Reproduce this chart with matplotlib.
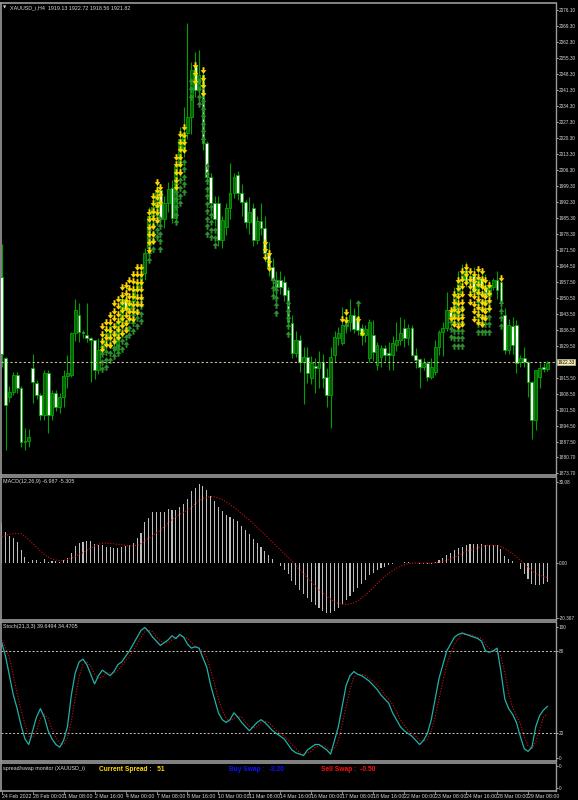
import matplotlib
matplotlib.use('Agg')
import matplotlib.pyplot as plt
from matplotlib.path import Path
from matplotlib.transforms import blended_transform_factory
import numpy as np

# ---------------- data (XAUUSD_i H4, 24 Feb 16:00 -> 30 Mar) ----------------
opens = [1959.4, 1924.0, 1906.9, 1909.1, 1916.6, 1910.9, 1887.2, 1888.0, 1919.6, 1913.1,
         1907.8, 1899.1, 1917.4, 1899.1, 1908.7, 1902.6, 1906.9, 1916.1, 1916.6, 1934.9,
         1942.8, 1935.4, 1934.0, 1932.7, 1931.8, 1918.7, 1927.5, 1932.0, 1935.0, 1929.0,
         1927.5, 1940.0, 1950.0, 1945.0, 1949.0, 1954.0, 1956.0, 1961.2, 1972.0, 1986.0,
         1990.0, 1997.5, 1985.0, 1992.0, 1998.4, 1985.2, 2008.0, 2015.0, 2022.4, 2029.4,
         2052.2, 2041.2, 2047.8, 2018.0, 2003.2, 1992.0, 1992.0, 1975.6, 1981.3, 1989.6,
         1996.2, 2004.0, 1996.2, 1992.2, 1983.5, 1989.6, 1975.6, 1984.0, 1981.0, 1970.0,
         1964.0, 1958.0, 1958.1, 1957.2, 1953.7, 1939.3, 1926.2, 1931.8, 1922.2, 1924.4,
         1915.2, 1920.5, 1919.6, 1922.2, 1915.7, 1907.8, 1925.3, 1932.7, 1930.5, 1938.4,
         1940.0, 1943.0, 1941.9, 1937.1, 1934.0, 1924.0, 1934.0, 1920.9, 1924.4, 1928.3,
         1926.2, 1925.3, 1929.6, 1931.8, 1937.1, 1932.7, 1937.1, 1925.3, 1923.5, 1920.0,
         1921.8, 1916.0, 1917.9, 1928.7, 1935.4, 1937.1, 1944.1, 1942.0, 1952.0, 1958.0,
         1962.5, 1957.2, 1960.0, 1953.0, 1959.0, 1955.0, 1951.0, 1955.0, 1958.0, 1957.2,
         1942.8, 1927.5, 1938.0, 1938.4, 1922.2, 1924.0, 1922.2, 1913.5, 1896.9, 1915.7,
         1920.0, 1919.13]
highs = [1974.0, 1924.5, 1912.0, 1918.0, 1918.0, 1912.0, 1893.4, 1893.0, 1926.0, 1914.4,
         1909.0, 1918.7, 1918.7, 1910.0, 1910.0, 1909.0, 1918.7, 1925.3, 1935.4, 1949.8,
         1948.0, 1936.5, 1948.0, 1933.2, 1931.8, 1933.0, 1935.0, 1938.0, 1941.0, 1936.0,
         1942.0, 1953.0, 1955.0, 1951.0, 1957.0, 1959.0, 1963.0, 1972.0, 1990.0, 1996.0,
         2001.0, 2000.0, 1995.0, 2001.0, 2002.0, 2010.0, 2025.0, 2034.0, 2070.5, 2053.5,
         2058.0, 2058.7, 2050.0, 2019.0, 2005.0, 1995.0, 1995.0, 1986.0, 1992.0, 2009.3,
         2004.9, 2006.0, 2000.0, 1993.0, 1994.4, 1992.0, 1986.0, 1992.0, 1986.0, 1975.0,
         1968.0, 1962.0, 1962.0, 1960.0, 1955.0, 1943.0, 1935.8, 1934.0, 1929.0, 1929.0,
         1925.0, 1924.0, 1927.0, 1926.0, 1919.6, 1928.7, 1935.8, 1937.5, 1946.3, 1945.0,
         1950.0, 1946.0, 1948.0, 1939.0, 1938.4, 1941.0, 1940.6, 1931.0, 1930.0, 1930.0,
         1931.0, 1933.6, 1939.8, 1942.0, 1941.0, 1939.0, 1938.4, 1928.3, 1924.0, 1924.0,
         1922.6, 1924.0, 1932.0, 1936.5, 1940.0, 1953.0, 1946.0, 1955.0, 1962.0, 1965.0,
         1966.0, 1963.0, 1964.0, 1962.0, 1963.0, 1961.0, 1958.0, 1959.0, 1962.0, 1960.0,
         1946.0, 1941.0, 1942.0, 1940.6, 1925.3, 1928.7, 1922.6, 1914.0, 1919.0, 1922.0,
         1922.0, 1922.72]
lows = [1920.0, 1883.7, 1905.0, 1908.0, 1909.0, 1885.0, 1884.0, 1885.0, 1904.3, 1906.0,
        1897.0, 1897.0, 1891.2, 1897.0, 1901.0, 1900.0, 1902.6, 1911.0, 1915.7, 1931.5,
        1931.0, 1933.0, 1931.0, 1913.5, 1915.0, 1917.0, 1925.0, 1928.0, 1931.0, 1925.0,
        1926.0, 1937.0, 1942.0, 1941.0, 1945.0, 1950.0, 1952.0, 1958.0, 1968.0, 1980.0,
        1985.0, 1982.0, 1981.0, 1988.0, 1983.0, 1984.0, 2005.0, 2012.0, 2020.0, 2022.0,
        2038.0, 2035.0, 2015.0, 2000.0, 1986.0, 1982.0, 1973.0, 1972.0, 1978.0, 1985.0,
        1994.0, 1993.0, 1986.0, 1981.0, 1978.5, 1973.0, 1974.0, 1978.0, 1966.0, 1960.0,
        1952.0, 1948.0, 1952.0, 1949.0, 1938.0, 1924.0, 1924.4, 1918.0, 1904.0, 1913.0,
        1912.6, 1909.0, 1911.0, 1911.0, 1902.6, 1893.4, 1922.2, 1930.0, 1929.6, 1935.0,
        1936.0, 1935.0, 1934.0, 1930.0, 1930.9, 1922.2, 1923.0, 1919.0, 1920.0, 1923.0,
        1918.7, 1918.7, 1927.0, 1929.6, 1929.0, 1930.0, 1925.0, 1919.6, 1910.9, 1919.0,
        1914.0, 1915.0, 1916.6, 1925.3, 1925.0, 1935.8, 1938.0, 1938.0, 1948.0, 1954.0,
        1955.0, 1952.0, 1950.0, 1950.0, 1952.0, 1948.0, 1946.0, 1953.7, 1950.0, 1945.0,
        1926.0, 1926.0, 1926.0, 1917.4, 1920.0, 1920.0, 1906.9, 1888.9, 1892.5, 1911.0,
        1918.0, 1918.56]
closes = [1926.0, 1903.4, 1909.1, 1916.6, 1910.9, 1887.2, 1888.0, 1889.4, 1913.5, 1907.8,
          1899.1, 1917.4, 1899.1, 1908.7, 1902.6, 1906.9, 1916.1, 1917.4, 1934.9, 1945.0,
          1935.4, 1934.9, 1932.7, 1931.8, 1918.7, 1927.5, 1932.0, 1935.0, 1938.0, 1927.5,
          1940.0, 1950.0, 1945.0, 1949.0, 1954.0, 1956.0, 1961.0, 1969.9, 1986.0, 1990.0,
          1997.5, 1985.2, 1992.0, 1998.0, 1985.2, 2008.0, 2020.0, 2022.4, 2029.4, 2050.0,
          2041.2, 2047.8, 2018.0, 2003.2, 1992.0, 1985.0, 1975.6, 1984.3, 1989.6, 1996.2,
          2003.2, 1996.2, 1992.2, 1983.5, 1988.0, 1975.6, 1984.0, 1981.0, 1970.0, 1964.0,
          1958.0, 1955.0, 1955.0, 1951.5, 1940.0, 1926.2, 1931.8, 1922.2, 1924.4, 1917.4,
          1921.8, 1919.6, 1922.2, 1915.2, 1907.8, 1924.4, 1933.2, 1934.9, 1938.4, 1940.0,
          1943.0, 1937.0, 1936.2, 1934.0, 1937.0, 1940.0, 1926.6, 1929.6, 1928.3, 1925.3,
          1925.3, 1930.5, 1931.8, 1934.9, 1932.7, 1937.1, 1925.3, 1923.1, 1920.0, 1921.8,
          1915.7, 1920.0, 1928.7, 1935.4, 1937.1, 1945.0, 1941.9, 1952.0, 1958.0, 1962.0,
          1957.2, 1960.0, 1953.0, 1959.0, 1955.0, 1951.0, 1956.0, 1958.1, 1954.0, 1948.0,
          1927.5, 1938.4, 1930.0, 1921.8, 1924.0, 1922.2, 1913.5, 1896.9, 1918.7, 1919.6,
          1919.1, 1921.82]

# signal arrows: bar index, price of first arrow, number of stacked arrows
yel_bar = [26, 27, 28, 29, 30, 31, 32, 33, 34, 35, 36, 38, 39, 40, 41, 45, 46, 47, 50, 52,
           68, 69, 88, 89, 92, 93, 116, 117, 118, 119, 120, 121, 122, 123, 124, 125, 126, 129]
yel_top = [1938, 1940, 1943, 1948, 1950, 1955, 1956, 1958, 1961, 1964, 1964, 1988, 1995, 2001,
           1999, 2012, 2022, 2025, 2052, 2050, 1975, 1970, 1941, 1944, 1941, 1935, 1945, 1952,
           1958, 1962, 1964, 1962, 1961, 1963, 1962, 1958, 1956, 1959]
yel_cnt = [4, 4, 5, 6, 6, 7, 7, 6, 7, 7, 6, 6, 7, 6, 3, 5, 6, 4, 3, 4,
           3, 3, 1, 2, 1, 1, 2, 5, 7, 8, 3, 5, 7, 8, 8, 6, 4, 1]
grn_bar = [26, 27, 28, 29, 30, 31, 32, 33, 34, 35, 36, 38, 39, 40, 41, 45, 46, 47, 49, 51,
           52, 53, 54, 55, 70, 71, 74, 89, 92, 116, 117, 118, 119, 123, 124, 125, 126, 129]
grn_top = [1929, 1930, 1933, 1935, 1936, 1938, 1940, 1944, 1946, 1948, 1950, 1980, 1985, 1990,
           1985, 2000, 2005, 2010, 2045, 2045, 2043, 2008, 1990, 1980, 1958, 1957, 1948, 1938,
           1948, 1940, 1946, 1946, 1946, 1952, 1952, 1952, 1952, 1948]
grn_cnt = [4, 4, 4, 4, 4, 4, 4, 4, 4, 4, 4, 5, 5, 5, 5, 6, 5, 5, 3, 4,
           8, 10, 5, 3, 3, 5, 5, 1, 1, 3, 6, 6, 6, 6, 6, 6, 6, 4]

macd_main = [14.8, 11.7, 10.1, 9.3, 7.9, 4.9, 2.5, 0.6, 1.2, 1.2,
             0.6, 1.6, 0.6, 0.7, 0.7, 0.5, 1.2, 2.1, 4.0, 6.4,
             7.5, 8.0, 8.4, 8.4, 7.2, 6.8, 6.8, 6.2, 6.0, 5.8,
             5.8, 6.2, 6.4, 6.9, 7.7, 9.3, 11.4, 15.2, 16.7, 18.9,
             18.9, 18.9, 19.1, 20.1, 19.8, 19.8, 20.7, 22.0, 23.8, 26.9,
             28.0, 29.5, 28.5, 27.0, 25.0, 23.0, 21.0, 19.5, 18.0, 17.0,
             16.5, 15.5, 14.0, 12.5, 11.0, 9.0, 7.5, 6.0, 4.5, 3.0,
             1.5, 0.2, -1.0, -2.5, -4.0, -6.5, -8.0, -10.0, -11.5, -13.0,
             -14.5, -15.5, -16.5, -17.5, -18.5, -18.5, -17.5, -16.5, -15.0, -13.5,
             -12.0, -10.5, -9.0, -7.5, -6.0, -4.5, -3.5, -2.5, -1.8, -1.2,
             -0.8, -0.4, 0.0, 0.3, 0.5, 0.6, 0.3, 0.0, -0.2, -0.3,
             -0.4, -0.2, 0.4, 1.2, 2.0, 3.0, 3.8, 4.8, 5.6, 6.2,
             6.8, 7.0, 7.2, 7.3, 7.3, 6.9, 6.7, 6.7, 6.7, 5.4,
             2.7, 1.7, 0.9, 0.0, -2.2, -3.8, -5.7, -7.8, -7.9, -7.9,
             -7.5, -6.987]
macd_signal = [9.8, 10.3, 10.7, 11.0, 11.1, 10.9, 10.0, 8.8, 7.4, 6.0,
               4.6, 3.3, 2.3, 1.6, 1.2, 1.0, 1.1, 1.4, 1.9, 2.6,
               3.3, 3.9, 4.8, 5.6, 6.3, 7.0, 7.4, 7.5, 7.4, 7.2,
               7.0, 6.9, 6.6, 6.4, 6.4, 6.8, 7.3, 8.4, 9.4, 10.2,
               11.2, 12.2, 13.6, 15.0, 16.2, 17.2, 18.2, 18.9, 19.6, 20.6,
               22.0, 23.2, 24.0, 24.5, 24.7, 24.6, 24.2, 23.6, 22.8, 21.8,
               20.8, 19.6, 18.4, 17.2, 16.0, 14.7, 13.3, 12.0, 10.6, 9.2,
               7.8, 6.4, 5.0, 3.6, 2.2, 0.8, -0.8, -2.3, -3.8, -5.3,
               -6.8, -8.3, -9.7, -11.0, -12.2, -13.3, -14.2, -14.8, -15.2, -15.3,
               -15.1, -14.6, -13.9, -12.9, -11.7, -10.4, -9.0, -7.6, -6.2, -4.9,
               -3.7, -2.7, -1.8, -1.1, -0.6, -0.2, 0.0, 0.1, 0.1, 0.1,
               0.1, 0.1, 0.2, 0.4, 0.7, 1.1, 1.6, 2.2, 2.9, 3.6,
               4.2, 4.8, 5.3, 5.8, 6.1, 6.5, 6.7, 6.7, 6.5, 6.1,
               5.4, 4.6, 3.6, 2.4, 1.2, -0.2, -1.5, -2.7, -3.7, -4.4,
               -4.9, -5.305]

stoch_main = [86, 76, 62, 48, 38, 26, 16, 12, 22, 32, 38, 32, 22, 16, 12, 10, 15, 25, 48, 64,
              72, 74, 70, 63, 56, 62, 66, 64, 62, 65, 70, 72, 76, 80, 85, 90, 95, 97, 94, 90,
              87, 84, 86, 88, 91, 89, 92, 90, 85, 82, 83, 82, 75, 68, 55, 45, 35, 30, 28, 30,
              35, 32, 28, 25, 22, 25, 28, 30, 28, 25, 22, 20, 18, 16, 12, 8, 6, 5, 4, 8,
              10, 12, 12, 10, 8, 5, 15, 25, 40, 55, 62, 65, 63, 62, 60, 58, 55, 52, 48, 45,
              42, 35, 30, 25, 22, 20, 18, 15, 12, 15, 20, 30, 45, 60, 70, 80, 85, 90, 92, 93,
              92, 91, 90, 89, 87, 80, 79, 80, 82, 65, 45, 38, 34, 28, 18, 9, 7, 10, 25, 33,
              37, 39.65]
stoch_signal = [88, 82, 75, 62, 49, 37, 27, 18, 17, 22, 31, 34, 31, 23, 17, 13, 12, 17, 29, 46,
                61, 70, 72, 69, 63, 60, 61, 64, 64, 64, 66, 69, 73, 76, 80, 85, 90, 94, 95, 94,
                90, 87, 86, 86, 88, 89, 91, 90, 89, 86, 83, 82, 80, 75, 66, 56, 45, 37, 31, 29,
                31, 32, 32, 28, 25, 24, 25, 28, 29, 28, 25, 22, 20, 18, 15, 12, 9, 6, 5, 6,
                7, 10, 11, 11, 10, 8, 9, 15, 27, 40, 52, 61, 63, 63, 62, 60, 58, 55, 52, 48,
                45, 41, 36, 30, 26, 22, 20, 18, 15, 14, 16, 22, 32, 45, 58, 70, 78, 85, 89, 92,
                92, 92, 91, 90, 89, 85, 82, 80, 80, 76, 64, 49, 39, 33, 27, 18, 11, 9, 14, 23,
                32, 34.47]

time_labels = ['24 Feb 2022', '28 Feb 00:00', '1 Mar 08:00', '2 Mar 16:00', '4 Mar 00:00',
               '7 Mar 08:00', '8 Mar 16:00', '10 Mar 00:00', '11 Mar 08:00', '14 Mar 16:00',
               '16 Mar 00:00', '17 Mar 08:00', '18 Mar 16:00', '22 Mar 00:00', '23 Mar 08:00',
               '24 Mar 16:00', '28 Mar 00:00', '29 Mar 08:00']
time_label_bars = list(range(0, 137, 8))
price_ticks = [2076.10, 2069.30, 2062.30, 2055.30, 2048.30, 2041.30, 2034.30, 2027.30, 2020.30,
               2013.30, 2006.30, 1999.30, 1992.30, 1985.30, 1978.30, 1971.50, 1964.50, 1957.50,
               1950.50, 1943.50, 1936.50, 1929.50, 1915.50, 1908.50, 1901.50, 1894.50, 1887.50,
               1880.70, 1873.70]
current_price = 1922.33

# ---------------- layout (pixels of a 578x800 picture) ----------------
W, H = 578, 800
BG = 'black'
FG = '#d8d8d8'
GRID = '#9a9a9a'
FS = 3.9      # in-chart texts
TFS = 3.4     # right scale labels
plt.rcParams['font.family'] = ['Liberation Sans', 'DejaVu Sans']

fig = plt.figure(figsize=(W / 100, H / 100), dpi=100, facecolor=BG)


def box(x0, y0, x1, y1):
    return [x0 / W, 1 - y1 / H, (x1 - x0) / W, (y1 - y0) / H]


X0, X1 = 1, 556          # chart area in pixels
bar_px, bar0_px = 3.87, 1.7
xlim = ((X0 - bar0_px) / bar_px, (X1 - bar0_px) / bar_px)

ax = fig.add_axes(box(X0, 3, X1, 475))
ax_m = fig.add_axes(box(X0, 477, X1, 620))
ax_s = fig.add_axes(box(X0, 622, X1, 761))
ax_w = fig.add_axes(box(X0, 763, X1, 791))

for a in (ax, ax_m, ax_s, ax_w):
    a.set_facecolor(BG)
    a.set_xlim(*xlim)
    a.set_xticks([])
    for side in ('top', 'bottom', 'left'):
        a.spines[side].set_color(GRID)
        a.spines[side].set_linewidth(1.2)
    a.spines['right'].set_color(GRID)
    a.spines['right'].set_linewidth(1.0)
    a.yaxis.tick_right()
    a.tick_params(axis='y', colors=FG, labelsize=TFS, length=1.5, width=0.6, pad=0.6)

n = len(closes)
idx = np.arange(n)
o = np.array(opens)
h = np.array(highs)
l = np.array(lows)
c = np.array(closes)

# ---------------- main price chart ----------------
ax.set_ylim(1872.96, 2079.29)
WICK = '#00a000'
ax.vlines(idx, l, h, color=WICK, lw=0.8, zorder=2)
up = c >= o
body_bot = np.minimum(o, c)
body_h = np.maximum(np.abs(c - o), 0.5)
ax.bar(idx[up], body_h[up], bottom=body_bot[up], width=0.72, color='#0c5c0c',
       edgecolor='#00a800', linewidth=0.6, zorder=3)
ax.bar(idx[~up], body_h[~up], bottom=body_bot[~up], width=0.72, color='white',
       edgecolor='#00a800', linewidth=0.6, zorder=3)

# arrow markers
down_arrow = Path([(-0.3, 1), (0.3, 1), (0.3, 0.1), (0.9, 0.1), (0, -1), (-0.9, 0.1),
                   (-0.3, 0.1), (-0.3, 1)], closed=True)
up_arrow = Path([(-0.3, -1), (0.3, -1), (0.3, -0.1), (0.9, -0.1), (0, 1), (-0.9, -0.1),
                 (-0.3, -0.1), (-0.3, -1)], closed=True)
STEP = 3.3
for b, top, k in zip(yel_bar, yel_top, yel_cnt):
    ys = top - STEP * np.arange(k)
    ax.scatter([b] * k, ys, marker=down_arrow, s=22, color='#ffd700', lw=0, zorder=5)
for b, top, k in zip(grn_bar, grn_top, grn_cnt):
    ys = top - STEP * np.arange(k)
    ax.scatter([b] * k, ys, marker=up_arrow, s=22, color='#2f8f2f', lw=0, zorder=4)

ax.axhline(current_price, color='#c8c09a', lw=0.8, ls=(0, (2, 2)), zorder=6)
ax.set_yticks(price_ticks)
ax.set_yticklabels([f'{v:.2f}' for v in price_ticks])
ax.text(1.003, current_price, f'{current_price:.2f}', transform=blended_transform_factory(ax.transAxes, ax.transData),
        fontsize=TFS, color='black', va='center', ha='left',
        bbox=dict(boxstyle='square,pad=0.12', fc='#f4eeb0', ec='#c8c09a', lw=0.5))
ax.text(0.004, 0.995, '\u25bc', transform=ax.transAxes, fontsize=3.0, color=FG, va='top', ha='left',
        family='DejaVu Sans')
ax.text(0.017, 0.996, 'XAUUSD_i,H4  1919.13 1922.72 1918.56 1921.82', transform=ax.transAxes,
        fontsize=FS, color=FG, va='top', ha='left')

# ---------------- MACD ----------------
ax_m.set_ylim(-20.99, 31.96)
ax_m.bar(idx, macd_main, width=0.28, color='#bdbdbd', zorder=2)
ax_m.plot(idx, macd_signal, color='#d01010', lw=0.8, ls=(0, (1, 1.5)), zorder=3)
ax_m.set_yticks([30.08, 0.0, -20.367])
ax_m.set_yticklabels(['30.08', '0.00', '-20.367'])
ax_m.text(0.004, 0.985, 'MACD(12,26,9) -6.987 -5.305', transform=ax_m.transAxes,
          fontsize=FS, color=FG, va='top', ha='left')

# ---------------- Stochastic ----------------
ax_s.set_ylim(0, 101)
ax_s.axhline(80, color='#c8c8c8', lw=0.7, ls=(0, (2, 2)))
ax_s.axhline(20, color='#c8c8c8', lw=0.7, ls=(0, (2, 2)))
ax_s.plot(idx, stoch_main, color='#20b2aa', lw=0.9, zorder=3)
ax_s.plot(idx, stoch_signal, color='#d01010', lw=0.8, ls=(0, (1, 1.5)), zorder=2)
ax_s.set_yticks([97.5, 80, 20, 2.5])
ax_s.set_yticklabels(['100', '80', '20', '0'])
ax_s.text(0.004, 0.985, 'Stoch(21,3,3) 39.6494 34.4705', transform=ax_s.transAxes,
          fontsize=FS, color=FG, va='top', ha='left')

# ---------------- spread / swap monitor ----------------
ax_w.set_ylim(0, 1)
ax_w.set_yticks([0.88, 0.1])
ax_w.set_yticklabels(['0', '0'])
ax_w.text(0.004, 0.9, 'spread/swap monitor (XAUUSD_i)', transform=ax_w.transAxes,
          fontsize=FS, color=FG, va='top', ha='left')
ax_w.text(98 / 555, 0.78, 'Current Spread :   51', transform=ax_w.transAxes,
          fontsize=4.8, color='#ffd700', weight='bold', va='center', ha='left')
ax_w.text(228 / 555, 0.78, 'Buy Swap :  -3.20', transform=ax_w.transAxes,
          fontsize=4.8, color='#1010ff', weight='bold', va='center', ha='left')
ax_w.text(320 / 555, 0.78, 'Sell Swap :  -0.50', transform=ax_w.transAxes,
          fontsize=4.8, color='#ff1010', weight='bold', va='center', ha='left')

# time axis
tr = blended_transform_factory(ax_w.transData, ax_w.transAxes)
for b, lab in zip(time_label_bars, time_labels):
    ax_w.text(b, -0.12, lab, transform=tr, fontsize=3.8, color=FG, va='top', ha='left', clip_on=False)
    ax_w.plot([b, b], [0, -0.1], transform=tr, color=GRID, lw=0.6, clip_on=False)

fig.savefig('out.png', dpi=100, facecolor=BG)
